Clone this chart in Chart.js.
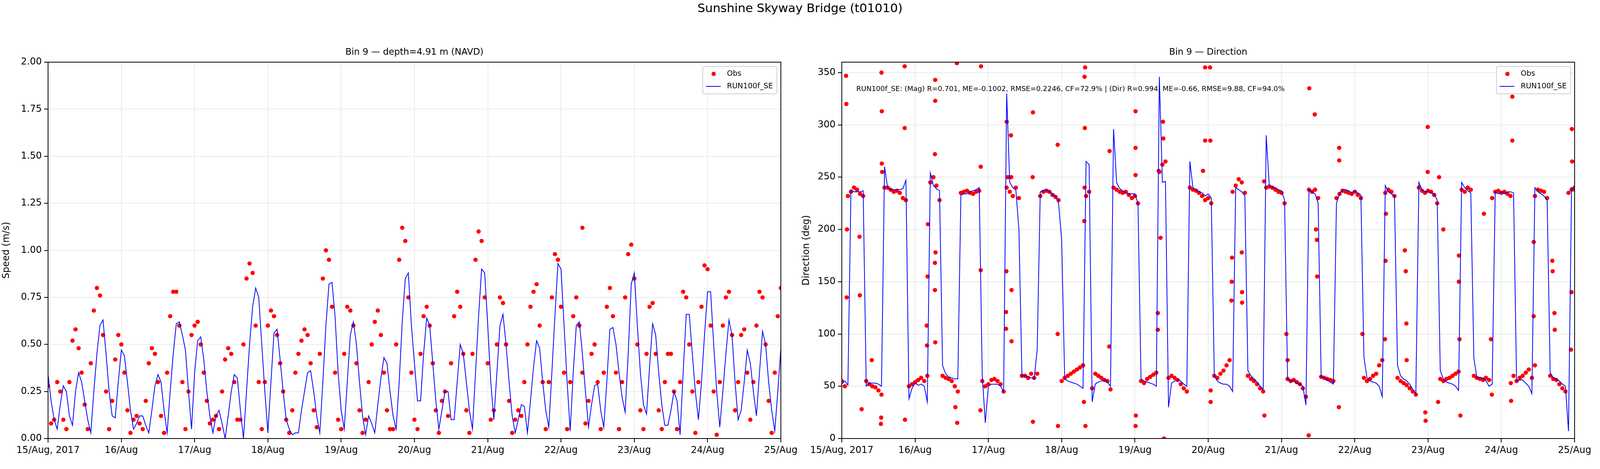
<!DOCTYPE html>
<html>
<head>
<meta charset="utf-8">
<script src="https://cdn.jsdelivr.net/npm/chart.js@4"></script>
<style>
  body { margin: 0; background: #fff; width: 4096px; height: 1200px; position: relative; overflow: hidden; font-family: "DejaVu Sans", sans-serif; }
  #title { position: absolute; top: 2px; left: 0; width: 4096px; text-align: center; font-size: 31px; line-height: 36px; }
  canvas { position: absolute; top: 0; }
</style>
</head>
<body>
<div id="title">Sunshine Skyway Bridge (t01010)</div>
<canvas id="speedChart" style="left:0"></canvas>
<canvas id="dirChart" style="left:2048px"></canvas>
<script>
// ────────────────────────────────────────
// Data (hourly, from 15/Aug 00:00)
// ────────────────────────────────────────
const dayLabels = ['15/Aug, 2017', '16/Aug', '17/Aug', '18/Aug', '19/Aug', '20/Aug', '21/Aug', '22/Aug', '23/Aug', '24/Aug', '25/Aug'];
const speedTicks = [0, 0.25, 0.5, 0.75, 1.0, 1.25, 1.5, 1.75, 2.0];
const dirTicks = [0, 50, 100, 150, 200, 250, 300, 350];

const obsSpeed = [
  0.28,0.08,0.10,0.30,0.25,0.10,0.05,0.30,0.52,0.58,0.48,0.35,0.18,0.05,0.40,0.68,0.80,0.76,0.55,0.25,0.05,0.20,0.42,0.55,
  0.50,0.35,0.15,0.03,0.10,0.12,0.08,0.05,0.20,0.40,0.48,0.45,0.30,0.12,0.03,0.35,0.65,0.78,0.78,0.60,0.30,0.05,0.25,0.55,
  0.60,0.62,0.50,0.35,0.20,0.08,0.10,0.12,0.05,0.25,0.42,0.48,0.45,0.30,0.10,0.10,0.50,0.85,0.93,0.88,0.60,0.30,0.05,0.30,
  0.60,0.68,0.65,0.55,0.40,0.25,0.10,0.03,0.15,0.35,0.45,0.52,0.58,0.55,0.40,0.15,0.06,0.45,0.85,1.00,0.95,0.70,0.35,0.10,
  0.05,0.45,0.70,0.68,0.60,0.40,0.15,0.03,0.10,0.30,0.50,0.62,0.68,0.55,0.35,0.15,0.05,0.05,0.50,0.95,1.12,1.05,0.75,0.35,
  0.10,0.05,0.45,0.65,0.70,0.60,0.40,0.15,0.03,0.20,0.25,0.12,0.40,0.65,0.78,0.70,0.45,0.15,0.03,0.45,0.95,1.10,1.05,0.75,
  0.40,0.10,0.15,0.50,0.75,0.72,0.50,0.20,0.03,0.10,0.15,0.12,0.30,0.50,0.70,0.78,0.82,0.60,0.30,0.05,0.30,0.75,0.98,0.95,
  0.70,0.35,0.05,0.30,0.65,0.75,0.60,0.35,0.08,0.20,0.45,0.50,0.30,0.05,0.35,0.70,0.80,0.65,0.35,0.05,0.30,0.75,0.98,1.03,
  0.85,0.50,0.15,0.05,0.45,0.70,0.72,0.45,0.15,0.05,0.30,0.45,0.45,0.25,0.05,0.30,0.78,0.75,0.50,0.25,0.03,0.30,0.70,0.92,
  0.90,0.60,0.25,0.02,0.30,0.60,0.75,0.78,0.55,0.15,0.30,0.55,0.58,0.35,0.10,0.30,0.60,0.78,0.75,0.50,0.20,0.03,0.35,0.65,
  0.80
];
const obsSpeedExtra = [[175, 1.12]];

const modSpeed = [
  0.34,0.20,0.10,0.05,0.18,0.28,0.25,0.12,0.07,0.25,0.35,0.30,0.20,0.10,0.03,0.25,0.45,0.60,0.63,0.45,0.25,0.12,0.11,0.30,
  0.47,0.44,0.30,0.15,0.05,0.08,0.12,0.12,0.07,0.03,0.15,0.28,0.34,0.30,0.15,0.03,0.25,0.45,0.61,0.62,0.55,0.47,0.25,0.05,
  0.35,0.52,0.54,0.42,0.25,0.12,0.03,0.12,0.15,0.08,0.00,0.12,0.25,0.34,0.32,0.15,0.00,0.25,0.50,0.70,0.80,0.75,0.50,0.25,
  0.03,0.30,0.56,0.58,0.42,0.25,0.10,0.05,0.02,0.03,0.03,0.15,0.25,0.35,0.36,0.25,0.12,0.03,0.30,0.60,0.82,0.83,0.65,0.35,
  0.15,0.05,0.30,0.55,0.62,0.50,0.30,0.12,0.02,0.12,0.08,0.03,0.18,0.32,0.43,0.40,0.25,0.12,0.05,0.30,0.62,0.85,0.88,0.60,
  0.40,0.20,0.20,0.45,0.64,0.60,0.40,0.20,0.05,0.15,0.25,0.25,0.10,0.10,0.30,0.50,0.45,0.30,0.15,0.05,0.35,0.65,0.90,0.88,
  0.60,0.30,0.10,0.35,0.60,0.66,0.50,0.30,0.12,0.03,0.10,0.18,0.17,0.03,0.20,0.38,0.52,0.48,0.30,0.15,0.06,0.35,0.65,0.93,
  0.90,0.60,0.30,0.04,0.35,0.60,0.62,0.45,0.25,0.06,0.18,0.28,0.29,0.15,0.06,0.30,0.58,0.59,0.50,0.35,0.22,0.14,0.45,0.82,
  0.88,0.60,0.35,0.18,0.13,0.38,0.61,0.55,0.35,0.18,0.07,0.07,0.15,0.25,0.20,0.02,0.35,0.66,0.66,0.45,0.25,0.10,0.30,0.55,
  0.78,0.78,0.50,0.25,0.06,0.25,0.45,0.63,0.55,0.30,0.10,0.15,0.30,0.47,0.40,0.25,0.12,0.35,0.57,0.50,0.30,0.15,0.04,0.25,
  0.48
];

const obsDir = [
  55,50,232,236,240,238,234,232,55,52,50,49,46,42,240,240,238,236,237,235,230,228,50,52,
  54,56,58,55,60,245,250,242,228,60,58,57,55,50,45,235,236,237,235,234,236,237,55,50,
  52,56,57,55,52,45,240,236,232,240,230,60,60,58,62,58,62,232,236,237,236,233,231,228,
  55,58,60,62,64,66,68,70,232,236,48,62,60,58,56,55,47,240,238,236,235,236,233,230,
  232,225,55,53,57,59,61,63,255,262,265,58,60,58,56,52,48,45,240,238,237,235,232,228,
  230,225,60,58,62,65,70,75,236,242,248,245,235,60,57,55,52,48,45,240,241,240,238,236,
  235,225,57,55,56,54,52,48,40,238,236,238,230,59,58,57,56,55,230,234,237,236,235,234,
  236,233,230,58,55,57,60,62,70,75,235,238,236,232,58,55,53,51,48,45,42,240,237,235,
  237,236,233,225,57,55,57,58,60,62,64,238,236,240,238,60,58,57,56,58,56,230,236,237,
  235,236,234,232,60,55,58,60,63,66,58,232,238,237,236,230,60,57,56,52,48,45,235,238,
  240
];
// scattered obs direction readings away from the plateaus [hour, deg]
const obsDirExtra = [
  [1.4,347],[1.5,320],[1.6,135],[1.7,200],[5.8,193],[5.9,137],[6.5,28],[9.8,75],[12.9,20],[12.8,14],[13.0,350],[13.1,313],
  [13.1,263],[13.2,255],[20.6,356],[20.6,297],[20.7,18],[27.8,108],[27.9,89],[28.1,155],[28.2,205],[30.6,343],[30.6,323],
  [30.5,272],[30.5,168],[30.5,142],[30.6,92],[30.7,178],[37.7,359],[37.2,30],[37.8,15],[45.6,356],[45.5,260],[45.5,161],
  [45.4,27],[54.0,303],[53.9,160],[53.8,121],[53.8,105],[54.4,250],[55.4,290],[55.5,250],[55.6,142],[55.6,93],[62.6,312],
  [62.5,250],[62.6,16],[70.7,281],[70.7,100],[70.8,12],[79.5,346],[79.7,355],[79.6,297],[79.5,240],[79.4,208],[79.3,35],
  [79.8,12],[87.7,275],[87.6,88],[96.2,313],[96.2,278],[96.2,252],[96.3,22],[96.2,12],[103.5,120],[103.5,104],[103.8,256],
  [104.4,192],[105.2,303],[105.3,287],[105.5,0],[118.3,256],[119.0,355],[119.0,285],
  [120.6,355],[120.7,285],[120.8,46],[120.8,35],[127.7,150],[127.6,132],[127.8,173],[131.1,140],[131.0,178],[131.1,130],
  [138.3,246],[138.4,22],[145.6,100],[146.0,75],[153.1,335],[152.9,3],[154.9,310],[155.3,200],[155.6,190],[155.7,155],
  [162.9,278],[162.9,266],[162.8,30],[170.5,100],[177.9,95],[178.1,170],[178.2,215],[184.4,180],[184.7,160],[184.9,110],
  [185.0,75],[191.9,298],[191.9,255],[191.2,17],[191.1,25],[195.6,250],[195.3,35],[197.0,200],[202.1,175],[202.1,150],
  [202.3,95],[202.6,22],[210.3,215],[210.9,58],[212.6,95],[212.9,42],[219.6,327],[219.6,285],[219.1,53],[219.2,36],
  [226.6,188],[226.6,117],[227.0,70],[232.7,170],[232.8,160],[233.4,120],[233.5,104],[239.1,296],[239.2,265],[239.0,140],
  [238.8,85]
];

const modDir = [
  52,55,51,238,236,236,236,237,50,53,53,53,52,50,260,240,238,238,238,238,239,247,38,48,
  53,51,52,50,35,254,242,239,237,70,62,59,58,57,57,233,234,234,236,237,238,240,60,15,
  50,52,52,52,50,45,330,245,240,238,200,60,60,59,58,57,85,236,237,238,236,234,232,225,
  190,57,55,54,53,52,50,48,265,262,35,52,54,55,56,54,50,296,245,239,237,235,234,234,
  234,225,57,55,54,53,52,50,346,245,246,30,53,55,56,55,52,50,265,240,238,236,235,232,
  234,230,60,55,53,52,52,50,45,240,238,236,232,65,60,57,54,50,47,290,242,240,240,238,
  237,228,57,55,55,53,52,50,32,238,236,234,225,59,58,56,54,52,225,234,238,238,237,235,
  237,235,233,78,58,55,54,53,50,40,242,236,234,232,70,60,57,55,52,47,43,245,238,236,
  236,235,234,228,65,57,54,53,52,50,46,245,240,237,235,77,58,58,58,55,50,52,236,234,
  236,234,236,236,235,55,56,56,53,50,43,240,236,234,232,228,63,58,57,55,52,50,7,240,
  236
];

const statsText = 'RUN100f_SE: (Mag) R=0.701, ME=-0.1002, RMSE=0.2246, CF=72.9% | (Dir) R=0.994, ME=-0.66, RMSE=9.88, CF=94.0%';

// ────────────────────────────────────────
// Helpers
// ────────────────────────────────────────
const FONT = '"DejaVu Sans", sans-serif';
const toXY = arr => arr.map((v, i) => ({ x: i, y: v }));
const extraXY = arr => arr.map(([x, y]) => ({ x, y }));

// frame, subplot title, legend, optional note
const decorPlugin = {
    id: 'decor',
    afterDraw(chart, args, opts) {
        const { ctx, chartArea: a } = chart;
        ctx.save();
        ctx.strokeStyle = '#000';
        ctx.lineWidth = 2;
        ctx.strokeRect(a.left, a.top, a.right - a.left, a.bottom - a.top);

        ctx.fillStyle = '#000';
        ctx.font = `23px ${FONT}`;
        ctx.textAlign = 'center';
        ctx.textBaseline = 'alphabetic';
        ctx.fillText(opts.title, (a.left + a.right) / 2, a.top - 19);

        if (opts.note) {
            ctx.font = `18px ${FONT}`;
            ctx.textAlign = 'left';
            ctx.textBaseline = 'middle';
            ctx.fillText(opts.note, a.left + 37, a.top + 69);
        }

        // legend box
        const w = 190, h = 70, x = a.right - w - 10, y = a.top + 11;
        ctx.fillStyle = 'rgba(255,255,255,0.8)';
        ctx.strokeStyle = '#d0d0d0';
        ctx.lineWidth = 2;
        ctx.beginPath();
        ctx.roundRect(x, y, w, h, 4);
        ctx.fill();
        ctx.stroke();
        ctx.fillStyle = '#ff0000';
        ctx.beginPath();
        ctx.arc(x + 28, y + 19, 5.5, 0, Math.PI * 2);
        ctx.fill();
        ctx.strokeStyle = '#0000ff';
        ctx.lineWidth = 2;
        ctx.beginPath();
        ctx.moveTo(x + 8, y + 51);
        ctx.lineTo(x + 46, y + 51);
        ctx.stroke();
        ctx.fillStyle = '#000';
        ctx.font = `19px ${FONT}`;
        ctx.textAlign = 'left';
        ctx.textBaseline = 'middle';
        ctx.fillText('Obs', x + 62, y + 19);
        ctx.fillText('RUN100f_SE', x + 62, y + 51);
        ctx.restore();
    }
};

function makeChart(id, cfg) {
    const canvas = document.getElementById(id);
    canvas.width = 2048;
    canvas.height = 1200;
    canvas.style.width = '2048px';
    canvas.style.height = '1200px';

    new Chart(canvas, {
        type: 'scatter',
        data: {
            datasets: [
                {
                    label: 'Obs',
                    data: cfg.obs,
                    backgroundColor: '#ff0000',
                    borderWidth: 0,
                    pointRadius: 5.5,
                    order: 2,
                },
                {
                    label: 'RUN100f_SE',
                    type: 'line',
                    data: cfg.mod,
                    borderColor: '#0000ff',
                    borderWidth: 2,
                    pointRadius: 0,
                    tension: 0,
                    order: 1,
                },
            ],
        },
        options: {
            responsive: false,
            animation: false,
            devicePixelRatio: 1,
            layout: { padding: { left: 0, right: cfg.padRight, top: 159, bottom: 0 } },
            plugins: {
                legend: { display: false },
                tooltip: { enabled: false },
                decor: { title: cfg.title, note: cfg.note },
            },
            scales: {
                x: {
                    type: 'linear',
                    min: 0,
                    max: 240,
                    afterBuildTicks: s => { s.ticks = dayLabels.map((_, i) => ({ value: i * 24 })); },
                    afterFit: s => { s.height = 78; },
                    grid: { color: '#ebebeb', lineWidth: 2, tickLength: 10, tickColor: '#000', tickWidth: 2 },
                    border: { display: false },
                    ticks: {
                        callback: v => dayLabels[v / 24],
                        font: { family: FONT, size: 24 },
                        color: '#000',
                        maxRotation: 0,
                        autoSkip: false,
                        padding: 6,
                    },
                },
                y: {
                    min: cfg.yMin,
                    max: cfg.yMax,
                    afterBuildTicks: s => { s.ticks = cfg.yTicks.map(v => ({ value: v })); },
                    afterFit: s => { s.width = cfg.yWidth; },
                    grid: { color: '#ebebeb', lineWidth: 2, tickLength: 10, tickColor: '#000', tickWidth: 2 },
                    border: { display: false },
                    title: { display: true, text: cfg.yTitle, font: { family: FONT, size: 24 }, color: '#000', padding: 2 },
                    ticks: {
                        callback: cfg.yFormat,
                        font: { family: FONT, size: 24 },
                        color: '#000',
                        padding: 6,
                    },
                },
            },
        },
        plugins: [decorPlugin],
    });
}

makeChart('speedChart', {
    obs: toXY(obsSpeed).concat(extraXY(obsSpeedExtra)),
    mod: toXY(modSpeed),
    title: 'Bin 9 — depth=4.91 m (NAVD)',
    note: null,
    yMin: 0, yMax: 2, yTicks: speedTicks,
    yFormat: v => v.toFixed(2),
    yTitle: 'Speed (m/s)',
    padRight: 49, yWidth: 123,
});

makeChart('dirChart', {
    obs: toXY(obsDir).concat(extraXY(obsDirExtra)),
    mod: toXY(modDir),
    title: 'Bin 9 — Direction',
    note: statsText,
    yMin: 0, yMax: 360, yTicks: dirTicks,
    yFormat: v => String(v),
    yTitle: 'Direction (deg)',
    padRight: 65, yWidth: 107,
});
</script>
</body>
</html>
